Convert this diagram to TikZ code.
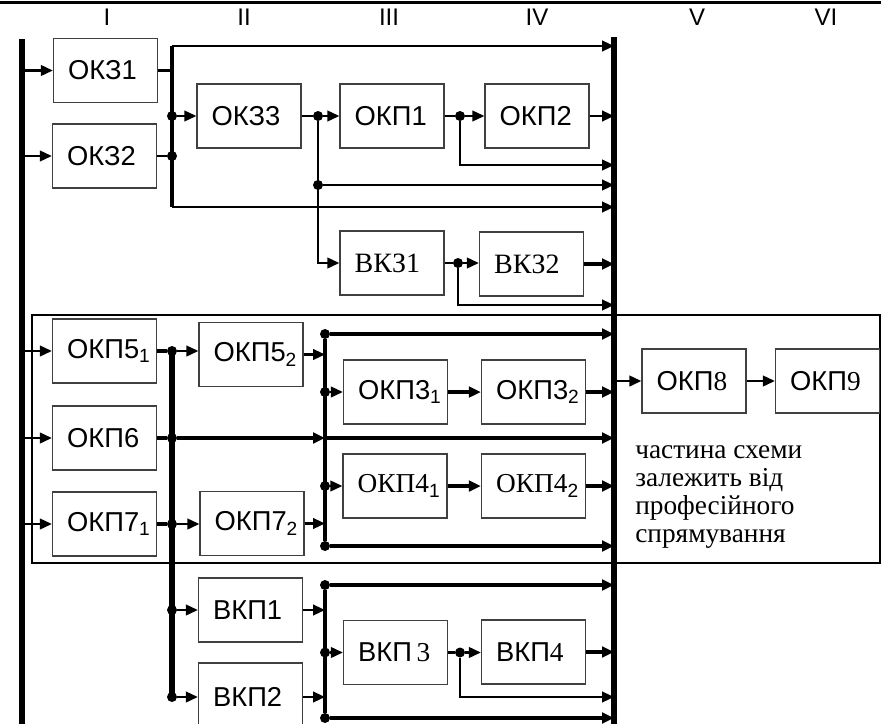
\documentclass[tikz,border=0pt]{standalone}
\usepackage{fontspec}
\setmainfont{Liberation Sans}
\newfontfamily\serif{Liberation Serif}
\usetikzlibrary{arrows.meta}
\begin{document}
\begin{tikzpicture}[x=0.75pt,y=-0.75pt,
  box/.style={draw=black!75, line width=1pt, minimum height=48pt, text width=56pt, inner xsep=11pt, inner ysep=0pt, align=left, font=\fontsize{20.5}{21}\selectfont},
  sr/.style={font=\serif\fontsize{21}{22}\selectfont},
  dot/.style={circle, fill=black, inner sep=0pt, minimum size=7.5pt},
  ln/.style={line width=1.6pt},
  thk/.style={line width=2.6pt},
  bus/.style={line width=3.8pt},
  arr/.style={-{Triangle[length=9pt,width=8pt]}},
  hd/.style={font=\fontsize{18}{19}\selectfont}
]
\useasboundingbox (0,0) rectangle (881,724);
\clip (0,0) rectangle (881,724);
% top rule and column headers
\coordinate (tl) at (0,2.5); \coordinate (tr) at (881,2.5);
\draw[line width=1.6pt] (tl) -- (tr);
\node[hd] (h1) at (107,17) {I};
\node[hd] (h2) at (244,17) {II};
\node[hd] (h3) at (389,17) {III};
\node[hd] (h4) at (537,17) {IV};
\node[hd] (h5) at (697,17) {V};
\node[hd] (h6) at (826,17) {VI};
% frame of the professional part
\draw[line width=0.9pt] (32,315) rectangle (880,563);
% buses
\coordinate (LBt) at (22,39); \coordinate (LBb) at (22,730);
\coordinate (RBt) at (614,37); \coordinate (RBb) at (614,730);
\draw[bus] (LBt) -- (LBb);
\draw[bus] (RBt) -- (RBb);
% boxes
\node[box] (ok1) at (105.5,70.5) {ОКЗ1};
\node[box] (ok2) at (104.5,156) {ОКЗ2};
\node[box] (ok3) at (249,116) {ОКЗ3};
\node[box] (okp1) at (392,116) {ОКП1};
\node[box] (okp2) at (537,116) {ОКП2};
\node[box,sr] (vk1) at (392,263) {ВКЗ1};
\node[box,sr] (vk2) at (531.5,264) {ВКЗ2};
\node[box] (p51) at (104.5,351) {ОКП5\textsubscript{1}};
\node[box] (p6) at (104.5,438) {ОКП6};
\node[box] (p71) at (104.5,524) {ОКП7\textsubscript{1}};
\node[box] (p52) at (251,354.5) {ОКП5\textsubscript{2}};
\node[box] (p72) at (252,523.5) {ОКП7\textsubscript{2}};
\node[box] (p31) at (395.5,392) {ОКП3\textsubscript{1}};
\node[box] (p32) at (533.5,392) {ОКП3\textsubscript{2}};
\node[box] (p41) at (395,486) {{\serif ОКП4}\textsubscript{1}};
\node[box] (p42) at (533.5,486) {{\serif ОКП4}\textsubscript{2}};
\node[box] (p8) at (694,381) {ОКП{\serif 8}};
\node[box] (p9) at (827.5,381) {ОКП{\serif 9}};
\node[box] (v1) at (250.5,610) {ВКП1};
\node[box, minimum height=51pt] (v2) at (250.5,697) {ВКП2};
\node[box] (v3) at (395.5,652.5) {ВКП\,{\serif 3}};
\node[box] (v4) at (533.5,652) {ВКП{\serif 4}};
\node[anchor=north west, align=left, inner sep=0pt, font=\serif\fontsize{20.5}{21}\selectfont] (note) at (635,445) {частина схеми\\залежить від\\професійного\\спрямування};
% ---- group 1
\draw[ln,arr] (ok1.west -| LBt) -- (ok1.west);
\draw[ln,arr] (ok2.west -| LBt) -- (ok2.west);
\coordinate (a1) at (172,46); \coordinate (a2) at (172,207);
\draw[thk] (a1) -- (a2);
\draw[ln] (ok1.east) -- (ok1.east -| a1);
\node[dot] (d0) at (ok2.east -| a1) {};
\draw[ln] (ok2.east) -- (d0);
\node[dot] (d1) at (ok3.west -| a1) {};
\draw[ln,arr] (d1) -- (ok3.west);
\draw[ln,arr] (a1) -- (a1 -| RBt);
\draw[ln,arr] (a2) -- (a2 -| RBt);
\coordinate (b1) at (318,0);
\node[dot] (d2) at (ok3.east -| b1) {};
\draw[ln] (ok3.east) -- (d2);
\draw[ln,arr] (d2) -- (okp1.west);
\draw[ln,arr] (d2) |- (vk1.west);
\node[dot] (d3) at (318,185) {};
\draw[ln,arr] (d3) -- (d3 -| RBt);
\coordinate (b2) at (460,0);
\node[dot] (d4) at (okp1.east -| b2) {};
\draw[ln] (okp1.east) -- (d4);
\draw[ln,arr] (d4) -- (okp2.west);
\coordinate (r1) at (614,165);
\draw[ln,arr] (d4) |- (r1);
\draw[ln,arr] (okp2.east) -- (okp2.east -| RBt);
\coordinate (b3) at (458,0);
\node[dot] (d5) at (vk1.east -| b3) {};
\draw[ln] (vk1.east) -- (d5);
\draw[ln,arr] (d5) -- (d5 -| vk2.west);
\coordinate (r2) at (614,305);
\draw[ln,arr] (d5) |- (r2);
\draw[thk,arr] (vk2.east) -- (vk2.east -| RBt);
% ---- group 2
\draw[ln,arr] (p51.west -| LBt) -- (p51.west);
\draw[ln,arr] (p6.west -| LBt) -- (p6.west);
\draw[ln,arr] (p71.west -| LBt) -- (p71.west);
\coordinate (c) at (172,0);
\node[dot] (e1) at (p51.east -| c) {};
\node[dot] (e2) at (p6.east -| c) {};
\node[dot] (e3) at (p71.east -| c) {};
\node[dot] (e4) at (v1.west -| c) {};
\node[dot] (e5) at (v2.west -| c) {};
\draw[bus] (e1.center) -- (e5.center);
\draw[thk] (p51.east) -- (e1);
\draw[ln,arr] (e1) -- (e1 -| p52.west);
\draw[thk] (p6.east) -- (e2);
\coordinate (g) at (325,0);
\draw[thk,arr] (e2) -- (e2 -| g);
\draw[thk,arr] (e2 -| g) -- (e2 -| RBt);
\draw[thk] (p71.east) -- (e3);
\draw[ln,arr] (e3) -- (e3 -| p72.west);
\node[dot] (f1) at (325,334) {};
\node[dot] (f2) at (p31.west -| g) {};
\node[dot] (f3) at (p41.west -| g) {};
\node[dot] (f4) at (325,546) {};
\draw[thk] (f1) -- (f4);
\draw[ln,arr] (p52.east) -- (p52.east -| g);
\draw[ln,arr] (p72.east) -- (p72.east -| g);
\draw[thk,arr] (f1) -- (f1 -| RBt);
\draw[ln,arr] (f2) -- (p31.west);
\draw[thk,arr] (p31) -- (p32);
\draw[thk,arr] (p32.east) -- (p32.east -| RBt);
\draw[ln,arr] (f3) -- (p41.west);
\draw[thk,arr] (p41) -- (p42);
\draw[thk,arr] (p42.east) -- (p42.east -| RBt);
\draw[thk,arr] (f4) -- (f4 -| RBt);
\draw[ln,arr] (p8.west -| RBt) -- (p8.west);
\draw[ln,arr] (p8) -- (p9);
% ---- group 3
\draw[ln,arr] (e4) -- (v1.west);
\draw[ln,arr] (e5) -- (v2.west);
\node[dot] (q1) at (325,585) {};
\node[dot] (q2) at (v3.west -| g) {};
\node[dot] (q3) at (325,718) {};
\draw[thk] (q1) -- (q3);
\draw[ln,arr] (v1.east) -- (v1.east -| g);
\draw[ln,arr] (v2.east) -- (v2.east -| g);
\draw[thk,arr] (q1) -- (q1 -| RBt);
\draw[ln,arr] (q2) -- (v3.west);
\coordinate (b4) at (460,0);
\node[dot] (q4) at (v3.east -| b4) {};
\draw[thk] (v3.east) -- (q4);
\draw[ln,arr] (q4) -- (q4 -| v4.west);
\coordinate (r3) at (614,697);
\draw[ln,arr] (q4) |- (r3);
\draw[thk,arr] (v4.east) -- (v4.east -| RBt);
\draw[thk,arr] (q3) -- (q3 -| RBt);
\end{tikzpicture}
\end{document}
